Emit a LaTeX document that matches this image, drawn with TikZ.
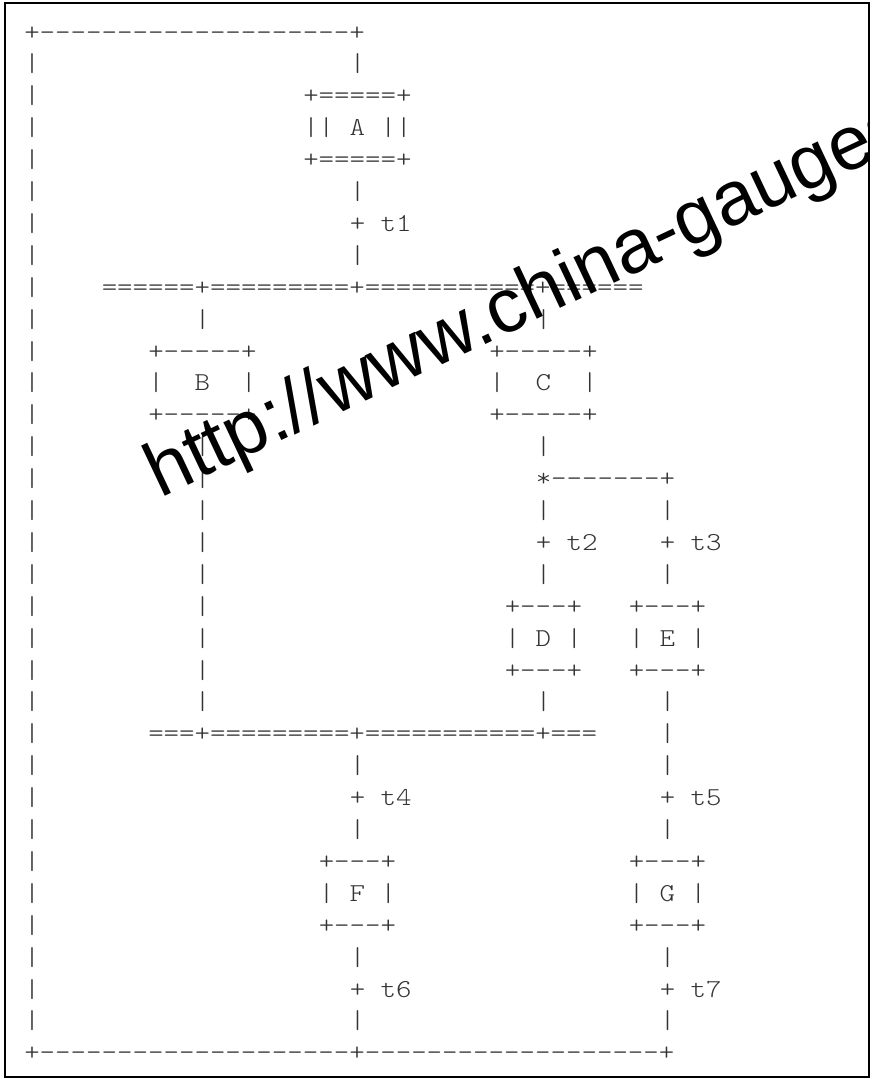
\documentclass[tikz,border=0pt]{standalone}
\usepackage{graphicx}
\usepackage{fontspec}
\setmonofont{Latin Modern Mono Light}
\newfontfamily\wmfont{Liberation Sans}
\begin{document}
\begin{tikzpicture}[x=1pt,y=-1pt,
  asc/.style={inner sep=0pt, outer sep=0pt, anchor=base west,
    font=\ttfamily\fontsize{25.8}{31}\selectfont, text=black!80},
  wmark/.style={inner sep=0pt, outer sep=0pt, anchor=base west, rotate=25.3,
    font=\wmfont\fontsize{76.5}{76.5}\selectfont, text=black},
  frame/.style={draw=black, line width=2.2pt}]
\useasboundingbox (0,0) rectangle (874,1079);
\newcommand\seg[3]{\node[asc] (s#2c#1) at ({24.25+15.5*#1},{40+31.9*(#2-1)}) {\scalebox{1.1429}[1]{#3}};}
% left rail
\foreach \l in {2,...,32} {\seg{0}{\l}{|}}
\seg{0}{1}{+--------------------+}
\seg{21}{2}{|}
\seg{18}{3}{+=====+}
\seg{18}{4}{||~A~||}
\seg{18}{5}{+=====+}
\seg{21}{6}{|}
\seg{21}{7}{+~t1}
\seg{21}{8}{|}
\seg{5}{9}{======+=========+===========+======}
\seg{11}{10}{|}\seg{33}{10}{|}
\seg{8}{11}{+-----+}\seg{30}{11}{+-----+}
\seg{8}{12}{|~~B~~|}\seg{30}{12}{|~~C~~|}
\seg{8}{13}{+-----+}\seg{30}{13}{+-----+}
\seg{11}{14}{|}\seg{33}{14}{|}
\seg{11}{15}{|}\seg{33}{15}{*-------+}
\seg{11}{16}{|}\seg{33}{16}{|}\seg{41}{16}{|}
\seg{11}{17}{|}\seg{33}{17}{+~t2}\seg{41}{17}{+~t3}
\seg{11}{18}{|}\seg{33}{18}{|}\seg{41}{18}{|}
\seg{11}{19}{|}\seg{31}{19}{+---+}\seg{39}{19}{+---+}
\seg{11}{20}{|}\seg{31}{20}{|~D~|}\seg{39}{20}{|~E~|}
\seg{11}{21}{|}\seg{31}{21}{+---+}\seg{39}{21}{+---+}
\seg{11}{22}{|}\seg{33}{22}{|}\seg{41}{22}{|}
\seg{8}{23}{===+=========+===========+===}\seg{41}{23}{|}
\seg{21}{24}{|}\seg{41}{24}{|}
\seg{21}{25}{+~t4}\seg{41}{25}{+~t5}
\seg{21}{26}{|}\seg{41}{26}{|}
\seg{19}{27}{+---+}\seg{39}{27}{+---+}
\seg{19}{28}{|~F~|}\seg{39}{28}{|~G~|}
\seg{19}{29}{+---+}\seg{39}{29}{+---+}
\seg{21}{30}{|}\seg{41}{30}{|}
\seg{21}{31}{+~t6}\seg{41}{31}{+~t7}
\seg{21}{32}{|}\seg{41}{32}{|}
\seg{0}{33}{+--------------------+-------------------+}
% watermark
\begin{scope}
  \clip (5,3) rectangle (869,1077);
  \node[wmark] (wm) at (160,498) {http://www.china-gauges};
\end{scope}
% frame
\draw[frame] (5,3) rectangle (869,1077);
\end{tikzpicture}
\end{document}
